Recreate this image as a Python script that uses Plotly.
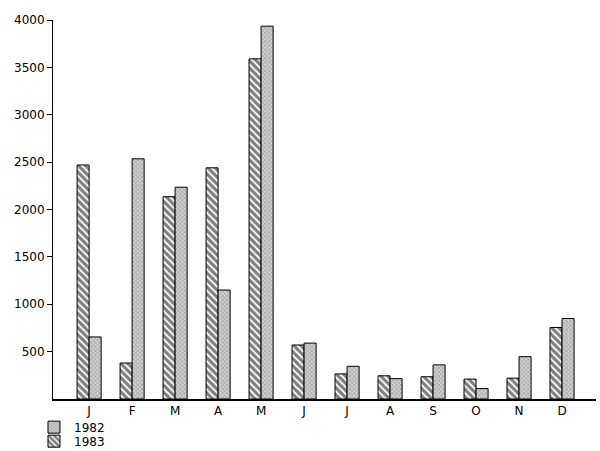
import plotly.graph_objects as go

months = ["J", "F", "M", "A", "M", "J", "J", "A", "S", "O", "N", "D"]
values_1983 = [2470, 380, 2135, 2440, 3590, 570, 265, 245, 235, 210, 220, 755]
values_1982 = [655, 2535, 2235, 1150, 3935, 590, 345, 215, 360, 110, 447, 850]
y_ticks = [500, 1000, 1500, 2000, 2500, 3000, 3500, 4000]

x = list(range(len(months)))

fig = go.Figure()
fig.add_trace(go.Bar(
    x=x, y=values_1983, name="1983", legend="legend2",
    marker=dict(color="white", line=dict(color="black", width=1),
                pattern=dict(shape="\\", fgcolor="black", bgcolor="white",
                             size=5, solidity=0.65)),
))
fig.add_trace(go.Bar(
    x=x, y=values_1982, name="1982", legend="legend",
    marker=dict(color="#bbbbbb", line=dict(color="black", width=1),
                pattern=dict(shape="x", fgcolor="#666666", bgcolor="#d0d0d0",
                             size=3, solidity=0.4)),
))

legend_style = dict(xanchor="left", yanchor="top", bgcolor="rgba(0,0,0,0)",
                    font=dict(size=12), itemwidth=30)

fig.update_layout(
    width=600, height=451,
    margin=dict(l=53, r=4, t=20, b=52, autoexpand=False),
    paper_bgcolor="white", plot_bgcolor="white",
    barmode="group", bargap=0.44, bargroupgap=0,
    font=dict(family="DejaVu Sans", size=12, color="black"),
    showlegend=True,
    legend=dict(x=-0.035, y=-0.036, **legend_style),
    legend2=dict(x=-0.035, y=-0.073, **legend_style),
    xaxis=dict(tickmode="array", tickvals=x, ticktext=months,
               range=[-0.84, 11.79], showgrid=False, zeroline=False,
               showline=True, linecolor="black", linewidth=1.5,
               ticks="", tickfont=dict(size=12)),
    yaxis=dict(range=[0, 4000], tickvals=y_ticks, showgrid=False,
               zeroline=False, showline=True, linecolor="black", linewidth=1,
               ticks="outside", ticklen=5, tickcolor="black",
               tickfont=dict(size=12)),
)

fig.write_html("out.html", config={"displayModeBar": False},
               post_script="document.body.style.margin='0';document.body.style.padding='0';")
